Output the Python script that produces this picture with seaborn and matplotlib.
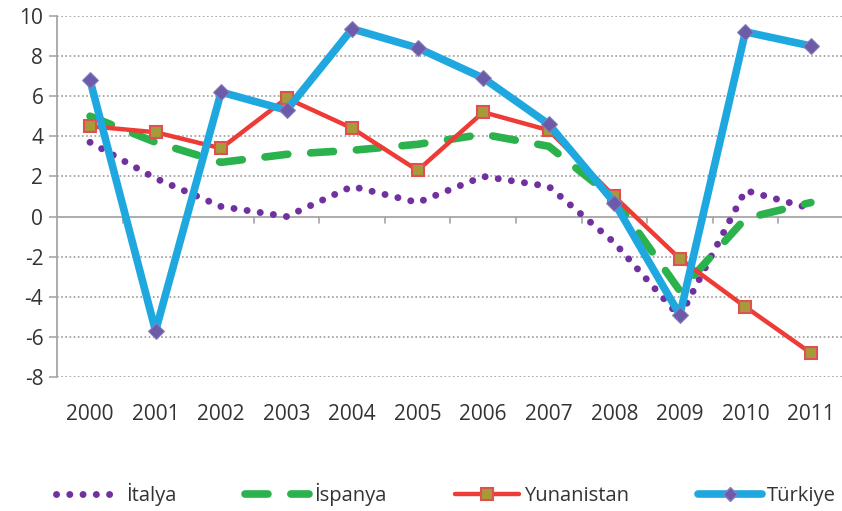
import pandas as pd
import matplotlib.pyplot as plt
import seaborn as sns
from matplotlib.lines import Line2D

years = [2000, 2001, 2002, 2003, 2004, 2005, 2006, 2007, 2008, 2009, 2010, 2011]
italya = [3.7, 1.9, 0.5, 0.0, 1.5, 0.7, 2.0, 1.5, -1.3, -5.0, 1.3, 0.4]
ispanya = [5.0, 3.7, 2.7, 3.1, 3.3, 3.6, 4.1, 3.5, 0.9, -3.7, -0.1, 0.7]
yunanistan = [4.5, 4.2, 3.4, 5.9, 4.4, 2.3, 5.2, 4.3, 1.0, -2.1, -4.5, -6.8]
turkiye = [6.8, -5.7, 6.2, 5.3, 9.35, 8.4, 6.9, 4.6, 0.7, -4.9, 9.2, 8.5]
y_ticks = [-8, -6, -4, -2, 0, 2, 4, 6, 8, 10]

df = pd.DataFrame({"year": years, "İtalya": italya, "İspanya": ispanya,
                   "Yunanistan": yunanistan, "Türkiye": turkiye})

sns.set_style("white")
plt.rcParams["font.family"] = ["Open Sans", "DejaVu Sans"]
plt.rcParams["axes.unicode_minus"] = False

fig = plt.figure(figsize=(8.42, 5.11), dpi=100)
ax = fig.add_axes([0.068, 0.262, 0.934, 0.707])

# gridlines
for v in y_ticks:
    if v == 0:
        ax.axhline(0, color="#A6A6A6", lw=1.3, zorder=1)
    else:
        ax.axhline(v, color="#9A9A9A", lw=1.2, ls=(0, (1, 1.5)), zorder=1)

# category boundary ticks on zero line
for b in range(len(years) - 1):
    ax.plot([years[b] + 0.5] * 2, [0, -0.3], color="#A6A6A6", lw=1.2, zorder=1)

it_style = dict(color="#7030A0", lw=5, linestyle=(0, (0.01, 1.9)), dash_capstyle="round")
es_style = dict(color="#2BB24C", lw=5.5, linestyle=(0, (3, 3)), dash_capstyle="round")
gr_style = dict(color="#EE3B36", lw=3.2, marker="s", markersize=9, markerfacecolor="#A89A3A",
                markeredgecolor="#E05050", markeredgewidth=1.5)
tr_style = dict(color="#1FA8DF", lw=5.5, marker="D", markersize=8,
                markerfacecolor="#6C5BA8", markeredgecolor="#8C7CC0")

sns.lineplot(data=df, x="year", y="İtalya", ax=ax, zorder=3, **it_style)
sns.lineplot(data=df, x="year", y="İspanya", ax=ax, zorder=3, **es_style)
sns.lineplot(data=df, x="year", y="Yunanistan", ax=ax, zorder=4, **gr_style)
sns.lineplot(data=df, x="year", y="Türkiye", ax=ax, zorder=5, **tr_style)

ax.set_xlim(1999.5, 2011.5)
ax.set_ylim(-8, 10)
ax.set_yticks(y_ticks)
ax.set_xticks(years)
ax.set_xticklabels([str(y) for y in years])
ax.set_xlabel("")
ax.set_ylabel("")
ax.tick_params(axis="x", length=0, pad=19, labelsize=15, colors="#333333")
ax.tick_params(axis="y", length=6, width=1.2, left=True, labelsize=15, pad=4,
               colors="#A6A6A6", labelcolor="#333333")
for s in ["top", "right", "bottom"]:
    ax.spines[s].set_visible(False)
ax.spines["left"].set_color("#A6A6A6")
ax.spines["left"].set_linewidth(1.3)
ax.grid(False)

handles = [Line2D([], [], **it_style), Line2D([], [], **es_style),
           Line2D([], [], **gr_style), Line2D([], [], **dict(tr_style, markersize=7))]
fig.legend(handles, ["İtalya", "İspanya", "Yunanistan", "Türkiye"], loc="center",
           bbox_to_anchor=(0.53, 0.032), ncol=4, frameon=False, fontsize=14.5,
           handlelength=3.2, columnspacing=3.4, handletextpad=0.25, labelcolor="#333333")

fig.savefig("out.png", dpi=100)
